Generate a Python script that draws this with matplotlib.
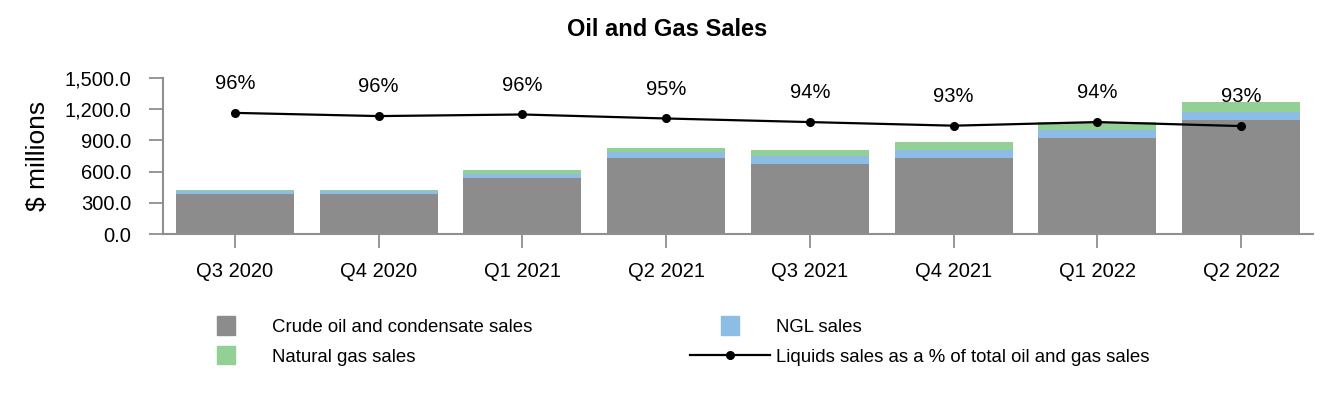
# plot.py
# Oil and gas sales by quarter: stacked bars + liquids share line

import matplotlib.pyplot as plt
from matplotlib.patches import Rectangle
from matplotlib.lines import Line2D
from matplotlib.legend_handler import HandlerPatch

plt.rcParams['font.family'] = ['Liberation Sans', 'DejaVu Sans']

quarters = ["Q3 2020", "Q4 2020", "Q1 2021", "Q2 2021",
            "Q3 2021", "Q4 2021", "Q1 2022", "Q2 2022"]
crude_sales = [389, 389, 539, 731, 673, 731, 921, 1095]
ngl_sales = [22, 24, 39, 55, 77, 77, 77, 77]
gas_sales = [13, 12, 38, 41, 58, 76, 77, 95]
liquids_pct = [96.4, 95.6, 96.0, 95.0, 94.1, 93.2, 94.1, 93.1]
pct_labels = ["96%", "96%", "96%", "95%", "94%", "93%", "94%", "93%"]

CRUDE_COLOR = "#8c8c8c"
NGL_COLOR = "#8dbde5"
GAS_COLOR = "#92d096"
AXIS_GREY = "#8f8f8f"


def square_patch(legend, orig_handle, xdescent, ydescent, width, height, fontsize):
    s = 13
    return Rectangle((-xdescent + (width - s) / 2, -ydescent + (height - s) / 2), s, s)


fig = plt.figure(figsize=(13.34, 4.0), dpi=100)
ax = fig.add_axes([0.1222, 0.4143, 0.8621, 0.3915])

x = list(range(len(quarters)))
ngl_bottom = crude_sales
gas_bottom = [c + n for c, n in zip(crude_sales, ngl_sales)]

ax.bar(x, crude_sales, width=0.82, color=CRUDE_COLOR, label="Crude oil and condensate sales")
ax.bar(x, ngl_sales, width=0.82, bottom=ngl_bottom, color=NGL_COLOR, label="NGL sales")
ax.bar(x, gas_sales, width=0.82, bottom=gas_bottom, color=GAS_COLOR, label="Natural gas sales")

ax.set_xlim(-0.5, len(quarters) - 0.5)
ax.set_ylim(0, 1500)
ax.set_yticks([0, 300, 600, 900, 1200, 1500])
ax.yaxis.set_major_formatter(plt.FuncFormatter(lambda v, p: f"{v:,.1f}"))
ax.set_xticks(x)
ax.set_xticklabels(quarters)
ax.set_ylabel("$ millions", fontsize=19, labelpad=10)

for side in ["top", "right"]:
    ax.spines[side].set_visible(False)
for side in ["left", "bottom"]:
    ax.spines[side].set_color(AXIS_GREY)
    ax.spines[side].set_linewidth(1.5)
ax.tick_params(axis="x", length=10, width=1.3, color=AXIS_GREY, labelsize=14.5, pad=10)
ax.tick_params(axis="y", length=10, width=1.3, color=AXIS_GREY, labelsize=14.5, pad=13)

# liquids share on a hidden secondary axis
ax2 = ax.twinx()
ax2.set_ylim(66.05, 105.2)
ax2.axis("off")
ax2.plot(x, liquids_pct, color="black", linewidth=1.6, marker="o", markersize=5.5)
for xi, v, lab in zip(x, liquids_pct, pct_labels):
    ax2.annotate(lab, (xi, v), xytext=(0, 21), textcoords="offset points",
                 ha="center", va="center", fontsize=14.5)

fig.suptitle("Oil and Gas Sales", fontsize=17, fontweight="bold", x=0.5, y=0.925, va="center")

handles = [
    Rectangle((0, 0), 1, 1, color=CRUDE_COLOR),
    Rectangle((0, 0), 1, 1, color=GAS_COLOR),
    Rectangle((0, 0), 1, 1, color=NGL_COLOR),
    Line2D([], [], color="black", linewidth=1.6, marker="o", markersize=5.5),
]
labels = ["Crude oil and condensate sales", "Natural gas sales",
          "NGL sales", "Liquids sales as a % of total oil and gas sales"]
fig.legend(handles, labels, ncol=2, loc="upper left", bbox_to_anchor=(0.1394, 0.2025),
           frameon=False, fontsize=13.4, handlelength=4.3, handletextpad=0.32,
           columnspacing=8.45, labelspacing=0.67, borderpad=0, borderaxespad=0,
           numpoints=1, handler_map={Rectangle: HandlerPatch(patch_func=square_patch)})

fig.savefig("out.png", dpi=100)
